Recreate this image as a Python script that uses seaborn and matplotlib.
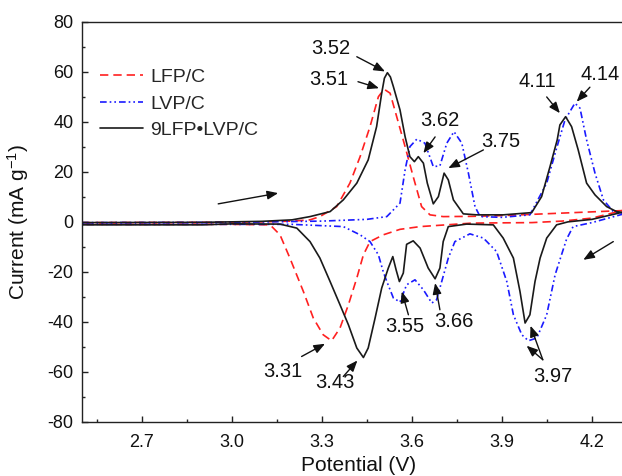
import matplotlib

matplotlib.use('Agg')
import matplotlib.pyplot as plt
from matplotlib.ticker import MultipleLocator
import pandas as pd
import seaborn as sns

# --- data ---
SAMPLES = ['LFP/C', 'LVP/C', '9LFP•LVP/C']

# anodic (upper) branches, potential ascending
lfp_up_v = [2.50, 2.90, 3.10, 3.20, 3.26, 3.293, 3.349, 3.393, 3.427, 3.46, 3.488, 3.507,
            3.527, 3.549, 3.577, 3.604, 3.632, 3.66, 3.704, 3.80, 3.90, 4.00, 4.10, 4.20, 4.30]
lfp_up_i = [-0.3, -0.2, 0.0, 0.3, 0.8, 2.1, 6.1, 15.5, 26.1, 38.1, 50.1, 53.1,
            51.5, 42.1, 30.1, 18.1, 6.1, 2.8, 2.1, 2.2, 2.5, 3.0, 3.5, 4.0, 4.5]

lvp_up_v = [2.50, 3.00, 3.30, 3.45, 3.516, 3.56, 3.577, 3.593, 3.616, 3.643, 3.671, 3.693,
            3.716, 3.74, 3.766, 3.788, 3.81, 3.827, 3.90, 3.993, 4.049, 4.082, 4.11, 4.143,
            4.16, 4.182, 4.21, 4.238, 4.271, 4.30]
lvp_up_i = [-0.3, -0.2, 0.3, 1.0, 2.1, 7.5, 20.8, 30.1, 33.1, 31.5, 22.1, 22.4,
            31.5, 36.1, 31.5, 19.5, 6.1, 2.1, 1.8, 2.8, 15.5, 29.5, 40.8, 47.5,
            45.5, 32.8, 19.5, 8.8, 4.1, 3.0]

mix_up_v = [2.50, 2.90, 3.10, 3.20, 3.26, 3.327, 3.371, 3.416, 3.454, 3.482, 3.499, 3.508,
            3.518, 3.528, 3.538, 3.56, 3.577, 3.593, 3.608, 3.621, 3.638, 3.651, 3.671, 3.688,
            3.707, 3.721, 3.738, 3.771, 3.816, 3.904, 3.999, 4.032, 4.06, 4.084, 4.093, 4.112,
            4.132, 4.154, 4.182, 4.21, 4.249, 4.282, 4.30]
mix_up_i = [-0.3, -0.2, 0.2, 0.8, 2.1, 4.1, 8.8, 15.5, 24.8, 38.1, 51.5, 57.5,
            59.7, 58.0, 54.1, 44.8, 34.1, 26.1, 24.1, 26.1, 23.5, 15.5, 7.2, 10.1,
            19.5, 16.8, 8.8, 3.2, 2.8, 2.8, 3.7, 10.1, 22.1, 32.8, 38.8, 42.1,
            38.1, 28.8, 15.5, 10.8, 6.1, 4.1, 3.8]

# cathodic (lower) branches, potential descending
lfp_dn_v = [4.30, 4.20, 4.10, 4.00, 3.80, 3.627, 3.56, 3.504, 3.46, 3.438, 3.416, 3.388,
            3.36, 3.332, 3.304, 3.271, 3.238, 3.193, 3.16, 3.127, 3.00, 2.50]
lfp_dn_i = [4.5, 1.5, 0.3, -0.3, -0.5, -1.9, -3.0, -5.2, -7.9, -13.2, -22.5, -33.2,
            -42.5, -47.6, -45.2, -38.5, -27.9, -14.5, -5.2, -1.2, -1.0, -1.0]

lvp_dn_v = [4.30, 4.20, 4.137, 4.115, 4.093, 4.077, 4.049, 4.016, 3.988, 3.966, 3.938, 3.916,
            3.882, 3.838, 3.793, 3.743, 3.721, 3.699, 3.682, 3.666, 3.638, 3.61, 3.582, 3.56,
            3.538, 3.516, 3.504, 3.488, 3.46, 3.427, 3.371, 3.20, 2.50]
lvp_dn_i = [3.0, -0.3, -1.9, -7.0, -15.2, -21.2, -37.2, -46.5, -47.6, -45.2, -37.2, -23.9,
            -11.9, -6.5, -4.8, -7.9, -14.5, -23.9, -31.2, -32.5, -27.2, -23.2, -25.2, -32.1,
            -30.5, -23.9, -19.9, -13.2, -7.9, -5.2, -1.9, -1.0, -1.0]

mix_dn_v = [4.30, 4.20, 4.12, 4.082, 4.049, 4.027, 4.01, 3.993, 3.977, 3.96, 3.938, 3.904,
            3.871, 3.782, 3.721, 3.704, 3.693, 3.677, 3.654, 3.627, 3.604, 3.582, 3.571,
            3.558, 3.547, 3.536, 3.521, 3.499, 3.477, 3.454, 3.438, 3.416, 3.388, 3.36,
            3.327, 3.293, 3.26, 3.216, 3.16, 3.00, 2.90, 2.50]
mix_dn_i = [3.8, 1.0, 0.0, -1.2, -6.5, -14.5, -23.9, -37.2, -40.5, -27.9, -14.5, -6.5,
            -1.2, -0.9, -1.9, -7.9, -18.5, -22.8, -18.5, -10.5, -7.6, -9.0, -20.5,
            -23.9, -19.2, -13.9, -18.5, -26.5, -38.5, -50.5, -54.3, -50.5, -41.2, -33.2,
            -23.9, -14.5, -7.9, -2.5, -0.9, -0.8, -1.2, -1.2]

# peak labels: text, text position, arrow tail(s), arrow tip(s)
PEAK_LABELS = ['3.52', '3.51', '3.62', '3.75', '4.11', '4.14',
               '3.31', '3.43', '3.55', '3.66', '3.97']
LABEL_XY = [(3.329, 69.5), (3.323, 56.8), (3.693, 40.5), (3.896, 32.0), (4.018, 56.1),
            (4.227, 58.8), (3.169, -59.9), (3.343, -64.5), (3.577, -41.9), (3.738, -39.9),
            (4.071, -61.9)]
ARROWS = [((3.416, 66.1), (3.510, 60.2)), ((3.420, 56.1), (3.490, 53.5)),
          ((3.677, 34.0), (3.638, 27.5)), ((3.838, 28.8), (3.721, 21.5)),
          ((4.049, 50.0), (4.093, 43.5)), ((4.193, 53.9), (4.149, 48.1)),
          ((3.232, -53.9), (3.310, -48.8)), ((3.371, -61.9), (3.418, -55.5)),
          ((3.588, -37.2), (3.566, -27.9)), ((3.693, -35.2), (3.677, -24.5)),
          ((4.036, -55.2), (3.995, -41.6)), ((4.036, -55.2), (3.982, -49.6)),
          # sweep direction
          ((2.954, 7.2), (3.154, 11.5)), ((4.271, -7.9), (4.171, -15.2))]

COLORS = {'LFP/C': '#ff2020', 'LVP/C': '#1a1aff', '9LFP•LVP/C': '#1a1a1a'}
DASHES = {'LFP/C': (5, 3), 'LVP/C': (4, 1.8, 1, 1.8, 1, 1.8), '9LFP•LVP/C': ''}

branches = {
    'LFP/C': (lfp_up_v + lfp_dn_v, lfp_up_i + lfp_dn_i),
    'LVP/C': (lvp_up_v + lvp_dn_v, lvp_up_i + lvp_dn_i),
    '9LFP•LVP/C': (mix_up_v + mix_dn_v, mix_up_i + mix_dn_i),
}
frames = []
for name in SAMPLES:
    v, i = branches[name]
    frames.append(pd.DataFrame({'Potential': v, 'Current': i, 'Sample': name}))
df = pd.concat(frames, ignore_index=True)

sns.set_theme(style='ticks')
plt.rcParams['font.family'] = ['Liberation Sans', 'DejaVu Sans']
plt.rcParams['mathtext.default'] = 'regular'
plt.rcParams['axes.unicode_minus'] = False

fig = plt.figure(figsize=(6.22, 4.76), dpi=100)
ax = fig.add_axes([82 / 622, 54.3 / 476, 554 / 622, 399.7 / 476])

sns.lineplot(data=df, x='Potential', y='Current', hue='Sample', style='Sample',
             hue_order=SAMPLES, style_order=SAMPLES, palette=COLORS, dashes=DASHES,
             sort=False, estimator=None, lw=1.2, ax=ax)

ax.set_xlim(2.5, 2.5 + 554 / 300)
ax.set_ylim(-80, 80)
ax.xaxis.set_major_locator(MultipleLocator(0.3))
ax.xaxis.set_minor_locator(MultipleLocator(0.15))
ax.yaxis.set_major_locator(MultipleLocator(20))
ax.yaxis.set_minor_locator(MultipleLocator(10))
ax.set_xticks([2.7, 3.0, 3.3, 3.6, 3.9, 4.2])
ax.set_xticklabels(['2.7', '3.0', '3.3', '3.6', '3.9', '4.2'])
ax.tick_params(which='both', direction='in', color='#222222', labelsize=13,
               labelcolor='#111111', width=1)
ax.tick_params(which='major', length=4.5)
ax.tick_params(which='minor', length=2.5)
ax.tick_params(axis='x', pad=9)
ax.tick_params(axis='y', pad=6)
for sp in ax.spines.values():
    sp.set_linewidth(1.0)
    sp.set_color('#222222')

ax.set_xlabel('Potential (V)', fontsize=15, color='#111111')
ax.set_ylabel('Current (mA g$^{-1}$)', fontsize=15, color='#111111')
ax.xaxis.set_label_coords(0.5, -0.085)
ax.yaxis.set_label_coords(-0.092, 0.5)

handles, labels = ax.get_legend_handles_labels()
ax.legend(handles, labels, loc='upper left', bbox_to_anchor=(0.019, 0.903),
          borderaxespad=0, frameon=False, fontsize=14, handlelength=2.2,
          handletextpad=0.35, labelspacing=0.45)

for lab, (tx, ty) in zip(PEAK_LABELS, LABEL_XY):
    ax.text(tx, ty, lab, fontsize=14.5, ha='center', va='center', color='#111111')
for tail, tip in ARROWS:
    ax.annotate('', xy=tip, xytext=tail,
                arrowprops=dict(arrowstyle='-|>,head_length=0.55,head_width=0.22',
                                color='#111111', lw=1.0, mutation_scale=12,
                                shrinkA=0, shrinkB=0))

fig.savefig('out.png', dpi=100)
plt.close(fig)
